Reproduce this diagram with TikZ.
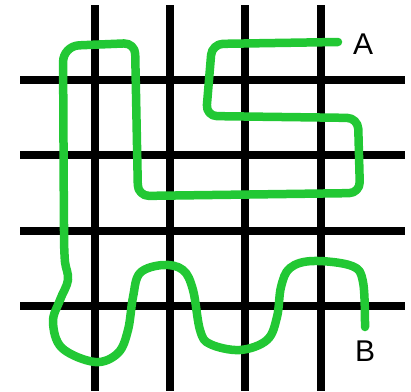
\documentclass[tikz,border=0pt]{standalone}
\usepackage{fontspec}
\setmainfont{Liberation Sans}
\definecolor{pen}{RGB}{34,200,52}
\begin{document}
\begin{tikzpicture}[x=1pt,y=-1pt,
  gridline/.style={line width=8pt,black},
  route/.style={line width=8.5pt,pen,line cap=round,line join=round},
  lbl/.style={font=\fontsize{30}{30}\selectfont,inner sep=0pt}]
\useasboundingbox (0,0) rectangle (411,391);
% grid
\foreach \x in {95,170,245,321} \draw[gridline] (\x,5) -- (\x,391);
\foreach \y in {80,155,231,306} \draw[gridline] (20,\y) -- (405,\y);
% labels
\node[lbl] (A) at (363,44) {A};
\node[lbl] (B) at (365,351) {B};
\coordinate (start) at (338,42);
\coordinate (end) at (365,327);
% route
\draw[route,rounded corners=11pt] (start) -- (212,44) -- (206,116) -- (358,118) -- (360,193) -- (138,196) -- (135,43)
  [rounded corners=16pt] -- (63,46) -- (64,240)
  [sharp corners] -- plot[smooth,tension=0.6] coordinates {(64,240) (65,262) (68,280) (60,300) (53,322) (62,348) (95,362) (118,353) (128,330) (133,297) (140,273) (163,265) (183,270) (193,290) (200,330) (210,344) (240,350) (267,340) (277,317) (281,287) (290,268) (313,261) (352,266) (363,282) (365,327)};
\end{tikzpicture}
\end{document}
